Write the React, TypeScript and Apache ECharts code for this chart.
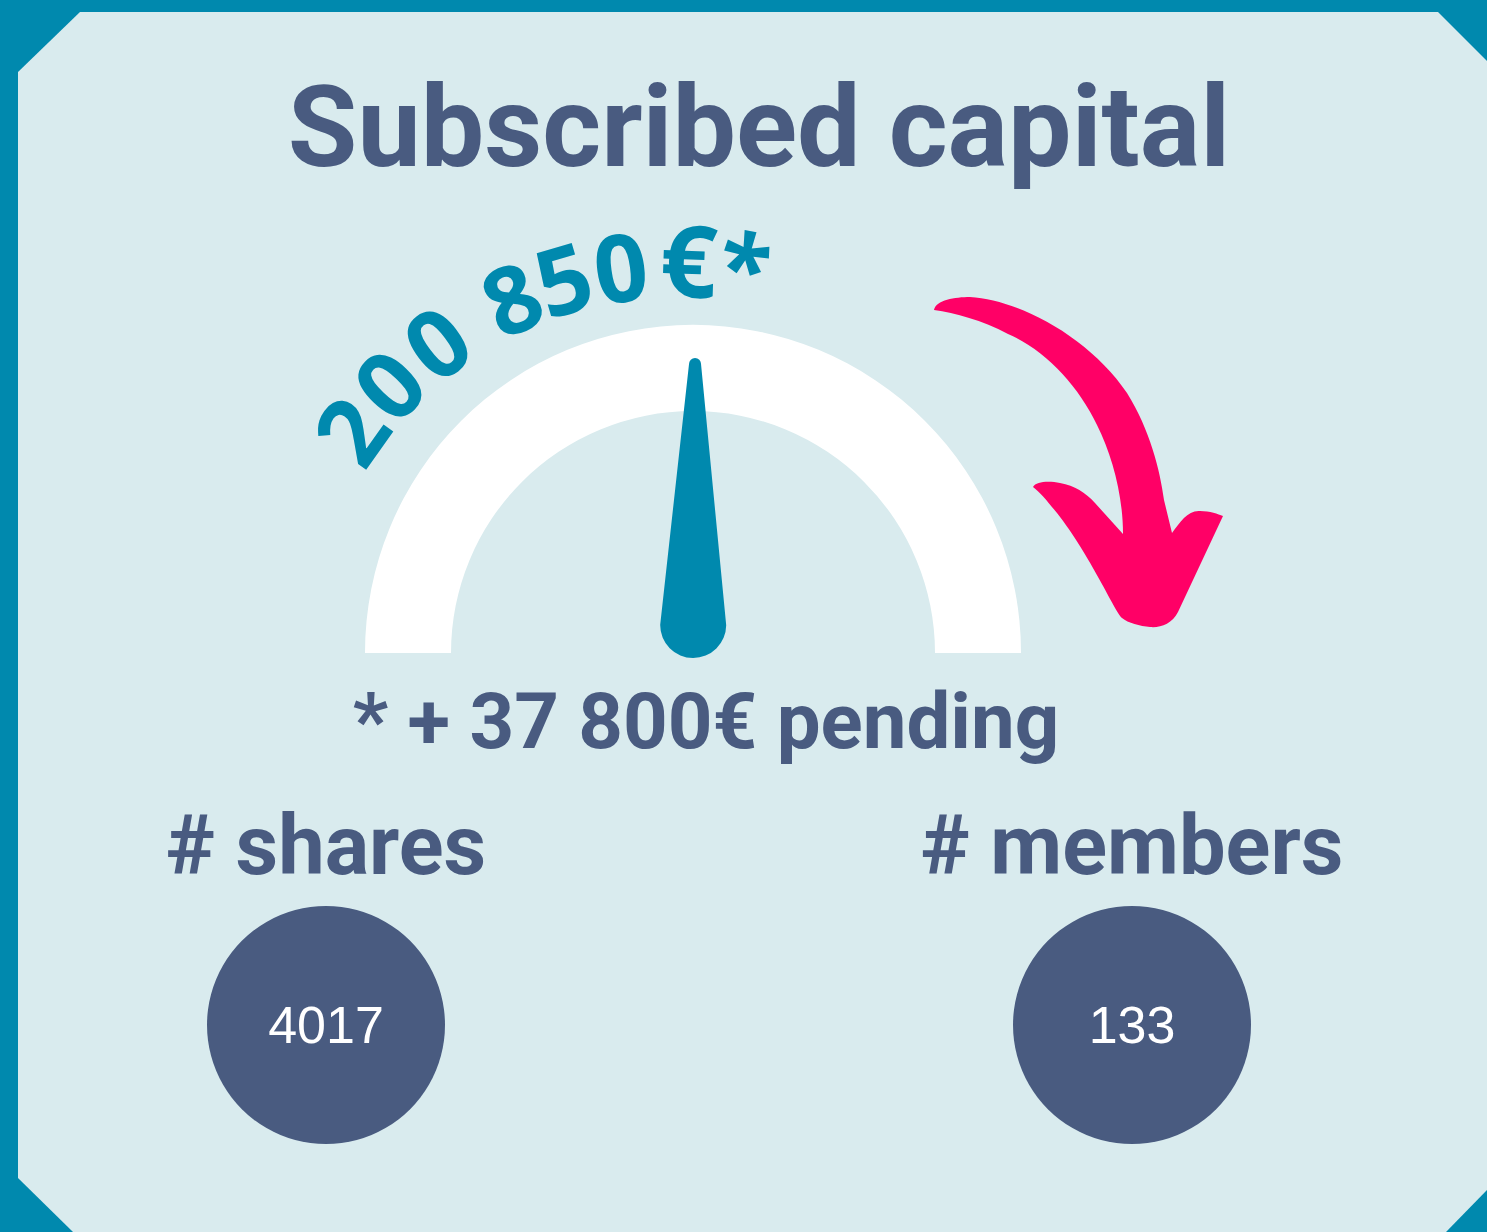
import React, { useEffect, useRef } from "react";
import * as echarts from "echarts";

// ---- data ----
const subscribedCapital = 200850;
const gaugeMax = 400000;
const pendingCapital = 37800;
const countCategories = ["shares", "members"];
const countValues = [4017, 133];
const titleText = "Subscribed capital";

const TEAL = "#0089ae";
const BG = "#d9ebee";
const SLATE = "#495b80";
const PINK = "#ff0066";

const fmt = (v: number) => String(v).replace(/\B(?=(\d{3})+(?!\d))/g, " ");

const ARROW_D =
  "M934,310 C936,300 955,297 970,297 C1020,300 1090,338 1127,393 C1150,430 1160,470 1164,500 L1172,533 C1180,522 1188,510 1200,511 C1210,511 1218,514 1223,516 L1178,612 C1172,624 1160,628 1150,627 C1140,626 1128,623 1122,618 C1115,612 1090,555 1057,513 C1048,502 1040,492 1033,487 C1036,481 1050,481 1060,483 C1075,486 1085,492 1095,503 L1123,534 C1123,495 1112,455 1097,425 C1078,385 1045,350 1008,334 C982,320 955,313 934,310 Z";

export default function App() {
  const ref = useRef<HTMLDivElement>(null);
  useEffect(() => {
    echarts.graphic.registerShape("pinkArrow", echarts.graphic.extendPath(ARROW_D, {}));
    const chart = echarts.init(ref.current!, null, { renderer: "svg" });

    // curved value text
    const arcText = fmt(subscribedCapital) + "€*";
    const arcAngles = [-54.7, -46.1, -36.9, 0, -24.3, -16.3, -7.9, 2.0, 10.0];
    const acx = 675, acy = 660;
    const arcR = [398, 398, 398, 0, 398, 398, 398, 402, 400];
    const arcEls: any[] = [];
    arcText.split("").forEach((ch, i) => {
      if (ch === " ") return;
      const phi = (arcAngles[i] * Math.PI) / 180;
      const ar = arcR[i];
      arcEls.push({
        type: "text",
        x: acx + ar * Math.sin(phi),
        y: acy - ar * Math.cos(phi),
        rotation: -phi,
        z: 10,
        style: {
          text: ch,
          fill: TEAL,
          font: (ch === "€" ? "bold 100px" : "bold 94px") + " 'Open Sans'",
          textAlign: "center",
          textVerticalAlign: "middle",
        },
      });
    });

    chart.setOption({
      animation: false,
      backgroundColor: TEAL,
      grid: { left: 326, right: 355, top: 985, height: 80 },
      xAxis: {
        type: "category",
        data: countCategories,
        position: "top",
        boundaryGap: false,
        axisLine: { show: false },
        axisTick: { show: false },
        splitLine: { show: false },
        axisLabel: {
          interval: 0,
          margin: 100,
          formatter: "# {value}",
          color: SLATE,
          fontSize: 83,
          lineHeight: 80,
          fontWeight: "bold",
          fontFamily: "Roboto",
        },
      },
      yAxis: { type: "category", data: ["count"], show: false },
      series: [
        {
          type: "gauge",
          center: [693, 653],
          radius: 328,
          startAngle: 180,
          endAngle: 0,
          min: 0,
          max: gaugeMax,
          axisLine: { lineStyle: { width: 86, color: [[1, "#ffffff"]] } },
          progress: { show: false },
          axisTick: { show: false },
          splitLine: { show: false },
          axisLabel: { show: false },
          anchor: { show: false },
          title: { show: false },
          detail: { show: false },
          pointer: {
            icon: "path://M27,6A6,6,0,0,1,39,6L66,267A33,33,0,0,1,0,267Z",
            length: 300,
            width: 66,
            offsetCenter: [0, 5],
            itemStyle: { color: TEAL },
          },
          data: [{ value: subscribedCapital }],
        },
        {
          type: "scatter",
          symbolSize: 238,
          itemStyle: { color: SLATE, opacity: 1 },
          label: {
            show: true,
            position: "inside",
            color: "#ffffff",
            fontSize: 52,
            fontFamily: "Liberation Sans",
            formatter: (p: any) => String(p.value[2]),
          },
          data: countCategories.map((c, i) => [c, "count", countValues[i]]),
        },
      ],
      graphic: [
        {
          type: "polygon",
          z: -10,
          shape: {
            points: [
              [80, 12], [1438, 12], [1487, 61], [1487, 1190],
              [1446, 1232], [73, 1232], [18, 1178], [18, 72],
            ],
          },
          style: { fill: BG },
        },
        {
          type: "text",
          x: 759,
          y: 127,
          z: 10,
          style: {
            text: titleText,
            fill: SLATE,
            font: "bold 113px Roboto",
            textAlign: "center",
            textVerticalAlign: "middle",
          },
        },
        {
          type: "text",
          x: 706,
          y: 721,
          z: 10,
          style: {
            text: "* + " + fmt(pendingCapital) + "€ pending",
            fill: SLATE,
            font: "bold 78px Roboto",
            textAlign: "center",
            textVerticalAlign: "middle",
          },
        },
        { type: "pinkArrow", x: 0, y: 0, z: 10, style: { fill: PINK } },
        ...arcEls,
      ],
    });
    return () => chart.dispose();
  }, []);
  return (
    <div style={{ position: "absolute", left: 0, top: 0 }}>
      <div ref={ref} style={{ width: 1487, height: 1232 }} />
    </div>
  );
}
